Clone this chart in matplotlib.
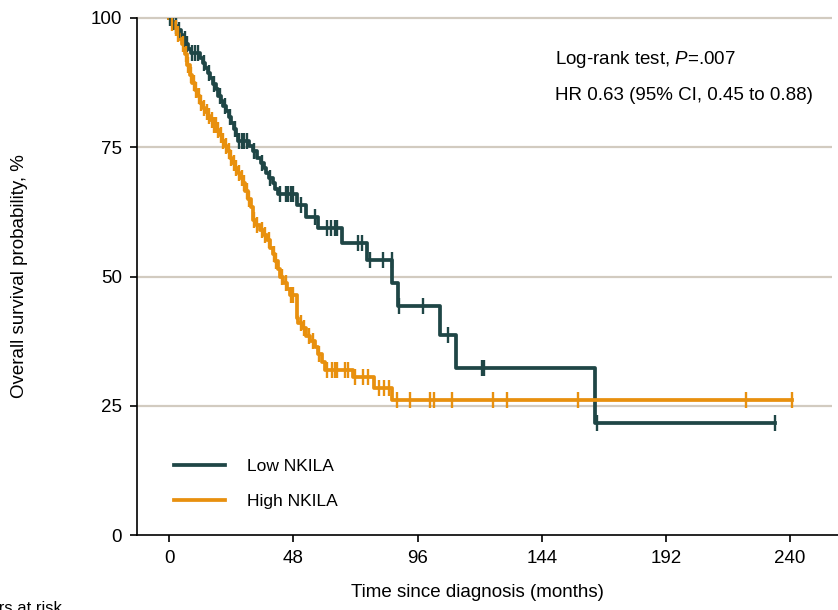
import matplotlib
matplotlib.use("Agg")
import matplotlib.pyplot as plt
import numpy as np

plt.rcParams['font.family'] = ['Liberation Sans', 'DejaVu Sans']
plt.rcParams['mathtext.fontset'] = 'custom'
plt.rcParams['mathtext.rm'] = 'Liberation Sans'
plt.rcParams['mathtext.it'] = 'Liberation Sans:italic'

# Kaplan-Meier step points (months, survival %)
low_times = [0, 1, 2, 3, 4.5, 5.5, 6.5, 7.5, 8.5, 12, 13, 14, 15, 16, 17, 18, 19, 20, 21, 22,
             23, 24, 25, 26, 26.7, 31, 32.5, 34, 35.5, 36.5, 37.5, 38.5, 40, 41, 42, 49.5,
             53, 57.5, 67, 76.4, 86.2, 88.5, 104.7, 111, 164.6]
low_surv = [100, 99.2, 98.4, 97.6, 96.8, 96, 95, 94, 93.2, 92.3, 91.3, 90.3, 89.3, 88.3, 87.3,
            86.2, 85, 84, 83, 82, 80.8, 79.7, 78.5, 77.3, 76.2, 75.2, 74.2, 73, 72, 71, 70, 69,
            68, 67, 66, 63.8, 61.5, 59.3, 56.5, 53.2, 48.7, 44.2, 38.7, 32.3, 21.7]
low_end = 234
low_censor = [0.5, 1.5, 2.5, 4, 6, 7, 9, 10, 11, 13.5, 15.5, 17.5, 19.5, 21.5, 23.5, 25.5, 27,
              28, 29, 30, 33, 36, 39, 43, 45, 46, 47, 48, 51, 56.4, 61, 62.5, 64, 65, 73,
              74.5, 77.7, 82.7, 86, 88.8, 98.2, 107.8, 121, 121.8, 165.4, 234]

high_times = [0, 1, 2, 3, 4, 5, 6, 7, 8, 9, 10, 11, 12, 13, 14, 15, 16, 17, 18.5, 19.5, 20.5,
              21.5, 22.5, 23.5, 24.5, 25.5, 26.5, 27.5, 28.5, 29.5, 30.5, 31.5, 32.5, 33.5, 35,
              36.5, 37.8, 39, 40, 41, 42, 42.9, 44, 45.5, 46.8, 49.5, 50, 51.5, 53, 54.5, 56.4,
              57.5, 59, 60.3, 71, 79, 86]
high_surv = [100, 99, 98, 97, 96, 95, 93, 91, 89, 87.5, 86, 85, 83.5, 82.5, 81.8, 81, 80.2,
             79.4, 78.3, 77.3, 76.3, 75.3, 74.2, 73, 72, 71, 70, 69, 68, 66.5, 65, 63.5, 61,
             60, 59, 58, 57, 55.5, 54.3, 53, 51.5, 50, 48.8, 47.5, 46.5, 42, 41, 40, 38.5,
             37.5, 36.4, 35, 33.5, 32, 30.6, 28.4, 26.1]
high_end = 240.6
high_censor = [1, 2.5, 3.5, 5.5, 6.5, 7.5, 8.5, 9.5, 10.5, 11.5, 12.5, 13.5, 14.5, 15.5, 16.5,
               17.5, 18, 19, 20, 21, 22, 23, 24, 25, 26, 27, 28, 29, 30, 31, 33, 34, 36, 37,
               38.5, 40.5, 41.5, 43.5, 45, 47, 48, 51, 52, 54, 55.5, 58, 61, 63, 64, 65, 68,
               69, 72, 75, 77, 81, 83, 85, 88, 93, 101, 102.5, 109.4, 125, 130.5, 158, 223,
               240.6]

labels = ['Low NKILA', 'High NKILA']
colors = ['#1F4646', '#E8900E']
yticks = [0, 25, 50, 75, 100]
xticks = [0, 48, 96, 144, 192, 240]

fig = plt.figure(figsize=(8.38, 6.10), dpi=100)
ax = fig.add_axes([137 / 838, 1 - 535 / 610, 1 - 137 / 838, (535 - 18) / 610])

ax.hlines([25, 50, 75, 100], -12.4, 256.2, color='#D2CBC0', lw=1.6, zorder=0, clip_on=False)

curves = [(low_times, low_surv, low_end, low_censor), (high_times, high_surv, high_end, high_censor)]
for (t, s, end, cens), lab, col in zip(curves, labels, colors):
    t = np.array(t + [end])
    s = np.array(s + [s[-1]])
    ax.step(t, s, where='post', color=col, lw=2.7, label=lab, zorder=3)
    cens = np.array(cens)
    idx = np.searchsorted(t, cens, side='right') - 1
    ax.plot(cens, s[idx], ls='none', marker='|', ms=11, mew=1.7, color=col, zorder=4)

ax.set_xlim(-12.4, 258.5)
ax.set_ylim(0, 100)
ax.set_xticks(xticks)
ax.set_yticks(yticks)
ax.tick_params(labelsize=13.5, length=5, width=1.2, direction='out', pad=6)
for sp in ['top', 'right']:
    ax.spines[sp].set_visible(False)
for sp in ['left', 'bottom']:
    ax.spines[sp].set_linewidth(1.2)

ax.set_xlabel('Time since diagnosis (months)', fontsize=13.5)
ax.set_ylabel('Overall survival probability, %', fontsize=13.5)
ax.xaxis.set_label_coords(0.485, -0.095)
ax.yaxis.set_label_coords(-0.155, 0.5)

ax.legend(loc='lower left', bbox_to_anchor=(0.03, 0.02), frameon=False, fontsize=12.5,
          handlelength=2.95, handletextpad=1.25, labelspacing=1.15)

fig.text(555 / 838, 1 - 60 / 610, 'Log-rank test, $\\it{P}$=.007', fontsize=13.5, va='center')
fig.text(555 / 838, 1 - 96 / 610, 'HR 0.63 (95% CI, 0.45 to 0.88)', fontsize=13.5, va='center')

fig.text(62 / 838, 1 - 601 / 610, 'Numbers at risk', fontsize=12, ha='right', va='top')

fig.savefig('out.png', dpi=100)
